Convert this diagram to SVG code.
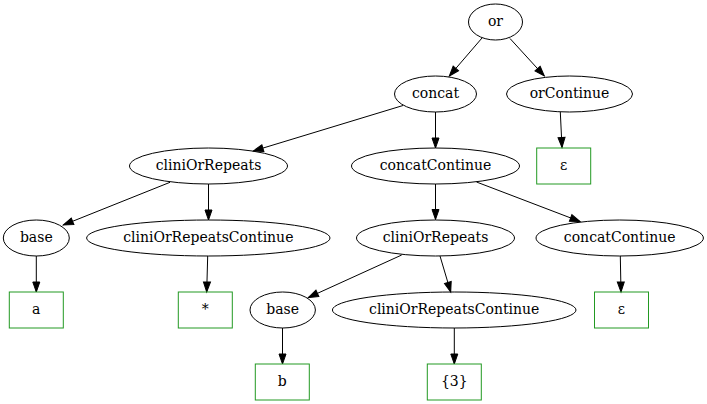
<svg xmlns="http://www.w3.org/2000/svg" width="707" height="404" viewBox="0 0 707 404">
<defs>
<style>
.n ellipse{fill:none;stroke:#000;stroke-width:1}
.n rect{fill:none;stroke:#229922;stroke-width:1}
text{font-family:'DejaVu Serif',serif;font-size:14px;text-anchor:middle;fill:#000}
.e line{stroke:#000;stroke-width:1;marker-end:url(#ah)}
</style>
<marker id="ah" markerUnits="userSpaceOnUse" markerWidth="10" markerHeight="7" refX="10" refY="3.5" orient="auto" overflow="visible">
<path d="M0,0 L10,3.5 L0,7 Z" fill="#000" stroke="#000" stroke-width="1"/>
</marker>
</defs>
<rect width="707" height="404" fill="#fff"/>
<g id="edges" class="e">
<line x1="482" y1="38" x2="449.3" y2="76"/>
<line x1="510" y1="38.5" x2="544.3" y2="76"/>
<line x1="403" y1="105.5" x2="253.3" y2="151"/>
<line x1="435.5" y1="112" x2="435.5" y2="148"/>
<line x1="560.3" y1="112" x2="562" y2="147.5"/>
<line x1="170" y1="182.3" x2="63.3" y2="225"/>
<line x1="208.5" y1="184" x2="208.5" y2="220"/>
<line x1="435.5" y1="184" x2="435.5" y2="219.5"/>
<line x1="476.5" y1="182" x2="580" y2="221.5"/>
<line x1="36.3" y1="256" x2="36.3" y2="292"/>
<line x1="207.7" y1="256" x2="206.7" y2="292"/>
<line x1="401.7" y1="255" x2="308.3" y2="297.5"/>
<line x1="440" y1="256" x2="450.7" y2="292"/>
<line x1="620.3" y1="256" x2="621" y2="292"/>
<line x1="282.5" y1="328" x2="282.5" y2="364"/>
<line x1="454.3" y1="328" x2="454.3" y2="364"/>
</g>
<g font-family="DejaVu Serif, serif">
<g id="or" class="n"><ellipse cx="495.5" cy="22" rx="27" ry="18"/><text x="495.5" y="26">or</text></g>
<g id="concat" class="n"><ellipse cx="435.5" cy="94" rx="41" ry="18"/><text x="435.5" y="98">concat</text></g>
<g id="orContinue" class="n"><ellipse cx="569.5" cy="94" rx="63" ry="18"/><text x="569.5" y="98">orContinue</text></g>
<g id="eps1" class="n"><rect x="536.7" y="148" width="54" height="36"/><text x="563.7" y="170">ε</text></g>
<g id="cliniOrRepeats1" class="n"><ellipse cx="208.5" cy="166" rx="79" ry="18"/><text x="208.5" y="170">cliniOrRepeats</text></g>
<g id="concatContinue1" class="n"><ellipse cx="435.5" cy="166" rx="84" ry="18"/><text x="435.5" y="170">concatContinue</text></g>
<g id="base1" class="n"><ellipse cx="36.3" cy="238" rx="33" ry="18"/><text x="36.3" y="242">base</text></g>
<g id="cliniOrRepeatsContinue1" class="n"><ellipse cx="208.3" cy="238" rx="121.7" ry="18"/><text x="208.3" y="242">cliniOrRepeatsContinue</text></g>
<g id="cliniOrRepeats2" class="n"><ellipse cx="435.5" cy="238" rx="79" ry="18"/><text x="435.5" y="242">cliniOrRepeats</text></g>
<g id="concatContinue2" class="n"><ellipse cx="619.7" cy="238" rx="83.7" ry="18"/><text x="619.7" y="242">concatContinue</text></g>
<g id="a" class="n"><rect x="9.3" y="292" width="54" height="36"/><text x="36.3" y="314">a</text></g>
<g id="star" class="n"><rect x="178.3" y="292" width="54" height="36"/><text x="205.3" y="314">*</text></g>
<g id="base2" class="n"><ellipse cx="282.7" cy="310" rx="32.7" ry="18"/><text x="282.7" y="314">base</text></g>
<g id="cliniOrRepeatsContinue2" class="n"><ellipse cx="454.2" cy="310" rx="121.8" ry="18"/><text x="454.2" y="314">cliniOrRepeatsContinue</text></g>
<g id="eps2" class="n"><rect x="594.5" y="292" width="54" height="36"/><text x="621.5" y="314">ε</text></g>
<g id="b" class="n"><rect x="255.3" y="364" width="54" height="36"/><text x="282.3" y="386">b</text></g>
<g id="rep3" class="n"><rect x="427.3" y="364" width="54" height="36"/><text x="454.3" y="386">{3}</text></g>
</g>
</svg>
